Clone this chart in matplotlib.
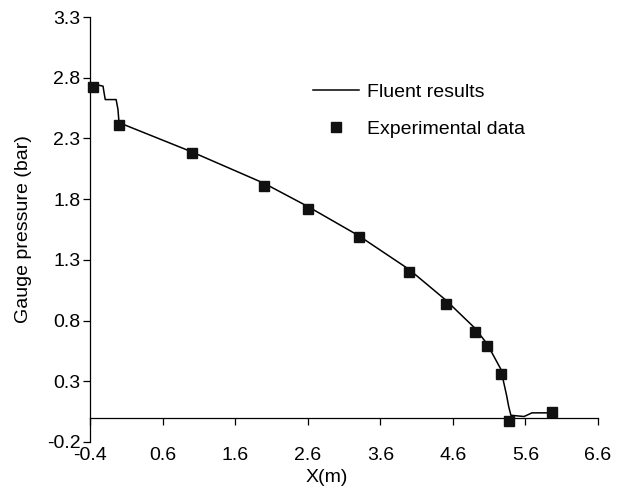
import numpy as np
import matplotlib.pyplot as plt

plt.rcParams['font.family'] = ['Liberation Sans', 'DejaVu Sans']

# Fluent results (CFD line)
fluent_x = [-0.40, -0.29, -0.22, -0.21, -0.19, -0.04, -0.015, 0.0, 0.5, 1.0, 1.5, 2.0,
            2.6, 3.3, 4.0, 4.5, 4.9, 5.07, 5.27, 5.29, 5.34, 5.37, 5.40, 5.58, 5.60, 5.69, 5.96]
fluent_y = [2.75, 2.74, 2.73, 2.69, 2.62, 2.62, 2.54, 2.43, 2.31, 2.19, 2.06, 1.93,
            1.74, 1.50, 1.22, 0.97, 0.74, 0.61, 0.39, 0.32, 0.185, 0.09, 0.02, 0.01, 0.015, 0.04, 0.04]

# Experimental data points
exp_x = [-0.36, 0.0, 1.0, 2.0, 2.6, 3.3, 4.0, 4.5, 4.9, 5.07, 5.27, 5.38, 5.96]
exp_y = [2.72, 2.41, 2.18, 1.91, 1.72, 1.49, 1.20, 0.94, 0.71, 0.59, 0.36, -0.03, 0.05]

xticks = [-0.4, 0.6, 1.6, 2.6, 3.6, 4.6, 5.6, 6.6]
yticks = [-0.2, 0.3, 0.8, 1.3, 1.8, 2.3, 2.8, 3.3]

fs = 14

fig = plt.figure(figsize=(6.2, 4.96), dpi=100)
ax = fig.add_axes([90 / 620, 1 - 442 / 496, 508 / 620, 425 / 496])

ax.plot(fluent_x, fluent_y, '-', color='black', lw=1.1, label='Fluent results')
ax.plot(exp_x, exp_y, 's', color='#111111', ms=7, ls='none', label='Experimental data',
        zorder=3, clip_on=False)

ax.set_xlim(-0.4, 6.6)
ax.set_ylim(-0.2, 3.3)
ax.set_xticks(xticks)
ax.set_yticks(yticks)
ax.set_xticklabels(['%.1f' % v for v in xticks])
ax.set_yticklabels(['%.1f' % v for v in yticks])

ax.spines['top'].set_visible(False)
ax.spines['right'].set_visible(False)
ax.spines['bottom'].set_position(('data', 0))
ax.spines['bottom'].set_bounds(-0.4, 6.6)
for s in ['left', 'bottom']:
    ax.spines[s].set_linewidth(0.9)

ax.tick_params(axis='y', direction='out', length=5, width=0.9, labelsize=fs, pad=2)
ax.tick_params(axis='x', direction='out', length=5, width=0.9, labelsize=fs, pad=16)

ax.set_ylabel('Gauge pressure (bar)', fontsize=fs)
ax.set_xlabel('X(m)', fontsize=fs)
ax.xaxis.set_label_coords(0.467, -0.064)
ax.yaxis.set_label_coords(-0.114, 0.5)

ax.legend(loc='upper left', bbox_to_anchor=(0.404, 0.885), frameon=False, fontsize=fs,
          handlelength=2.4, labelspacing=1.0, handletextpad=0.4)

fig.savefig('out.png', dpi=100)
